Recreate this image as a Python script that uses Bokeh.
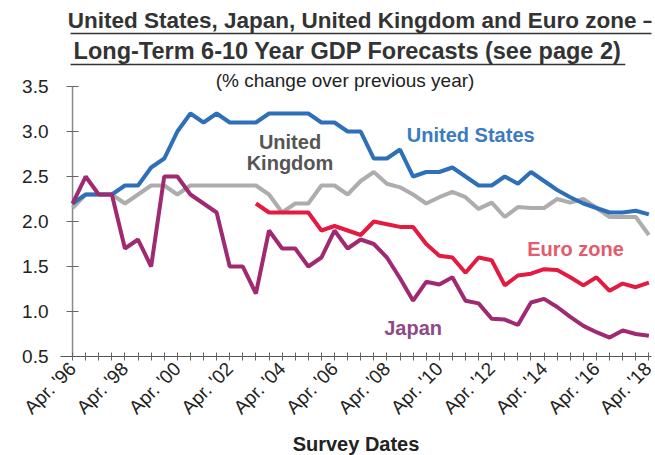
import math
from bokeh.plotting import figure
from bokeh.models import FixedTicker, Range1d, PrintfTickFormatter
from bokeh.core.properties import value
from bokeh.embed import file_html
from bokeh.resources import INLINE

# ---- data (semi-annual surveys, Apr. 1996 .. Apr. 2018) ----
survey_index = list(range(45))
tick_labels = ["Apr. '96", "Apr. '98", "Apr. '00", "Apr. '02", "Apr. '04", "Apr. '06",
               "Apr. '08", "Apr. '10", "Apr. '12", "Apr. '14", "Apr. '16", "Apr. '18"]
y_ticks = [0.5, 1.0, 1.5, 2.0, 2.5, 3.0, 3.5]

united_states = [2.2, 2.3, 2.3, 2.3, 2.4, 2.4, 2.6, 2.7, 3.0, 3.2,
                 3.1, 3.2, 3.1, 3.1, 3.1, 3.2, 3.2, 3.2, 3.2, 3.1,
                 3.1, 3.0, 3.0, 2.7, 2.7, 2.8, 2.5, 2.55, 2.55, 2.6,
                 2.5, 2.4, 2.4, 2.5, 2.42, 2.55, 2.45, 2.35, 2.27, 2.2,
                 2.15, 2.1, 2.1, 2.12, 2.08]
united_kingdom = [2.15, 2.3, 2.3, 2.3, 2.2, 2.3, 2.4, 2.4, 2.3, 2.4,
                  2.4, 2.4, 2.4, 2.4, 2.4, 2.3, 2.1, 2.2, 2.2, 2.4,
                  2.4, 2.3, 2.45, 2.55, 2.42, 2.38, 2.3, 2.2, 2.27, 2.33,
                  2.27, 2.14, 2.21, 2.05, 2.16, 2.15, 2.15, 2.25, 2.21, 2.25,
                  2.15, 2.05, 2.05, 2.05, 1.85]
japan = [2.2, 2.5, 2.3, 2.3, 1.7, 1.8, 1.5, 2.5, 2.5, 2.3,
         2.2, 2.1, 1.5, 1.5, 1.2, 1.9, 1.7, 1.7, 1.5, 1.6,
         1.9, 1.7, 1.8, 1.75, 1.6, 1.37, 1.12, 1.33, 1.3, 1.38,
         1.12, 1.09, 0.92, 0.91, 0.85, 1.1, 1.14, 1.05, 0.94, 0.84,
         0.77, 0.71, 0.79, 0.75, 0.73]
euro_index = list(range(14, 45))
euro_zone = [2.2, 2.1, 2.1, 2.1, 2.1, 1.9, 1.95, 1.9, 1.85, 2.0,
             1.97, 1.94, 1.94, 1.75, 1.62, 1.6, 1.43, 1.6, 1.57, 1.29,
             1.4, 1.42, 1.47, 1.46, 1.38, 1.29, 1.38, 1.23, 1.31, 1.27,
             1.32]

FONT = "Liberation Sans"
US_C, UK_C, EU_C, JP_C = "#2e6fba", "#adadad", "#e31b40", "#a02a72"

p = figure(frame_width=591, frame_height=348, output_backend="svg", toolbar_location=None,
           x_range=Range1d(-0.92, 44.2), y_range=Range1d(0.5, 4.367),
           min_border_left=60, min_border_right=4, min_border_top=8, min_border_bottom=97)
p.xgrid.visible = False
p.ygrid.visible = False
p.outline_line_color = None
p.background_fill_color = "white"

# y axis: labels only, line + ticks drawn at x = first survey
p.yaxis.ticker = FixedTicker(ticks=y_ticks)
p.yaxis.formatter = PrintfTickFormatter(format="%.1f")
p.yaxis.axis_line_color = None
p.yaxis.major_tick_line_color = None
p.yaxis.minor_tick_line_color = None
p.yaxis.major_label_standoff = 6
p.yaxis.major_label_text_font = FONT
p.yaxis.major_label_text_font_size = "19px"
p.yaxis.major_label_text_color = "#222222"

p.segment(x0=survey_index[0], y0=y_ticks[0], x1=survey_index[0], y1=y_ticks[-1],
          line_color="#8a8a8a", line_width=1.5)
p.scatter(x=[survey_index[0]] * len(y_ticks), y=y_ticks, marker="dash", size=12,
          line_color="#666666", line_width=1.2)

# x axis
overrides = {}
for i in survey_index:
    overrides[i] = tick_labels[i // 4] if i % 4 == 0 else ""
p.xaxis.ticker = FixedTicker(ticks=survey_index)
p.xaxis.major_label_overrides = overrides
p.xaxis.major_label_orientation = math.pi / 4
p.xaxis.major_tick_in = 4
p.xaxis.major_tick_out = 4
p.xaxis.major_tick_line_color = "#666666"
p.xaxis.minor_tick_line_color = None
p.xaxis.axis_line_color = "#555555"
p.xaxis.axis_line_width = 1.2
p.xaxis.major_label_text_font = FONT
p.xaxis.major_label_text_font_size = "19px"
p.xaxis.major_label_text_color = "#222222"
p.xaxis.major_label_standoff = 5
p.xaxis.axis_label = "Survey Dates"
p.xaxis.axis_label_text_font = FONT
p.xaxis.axis_label_text_font_style = "bold"
p.xaxis.axis_label_text_font_size = "20px"
p.xaxis.axis_label_text_color = "#222222"
p.xaxis.axis_label_standoff = 5

# series
p.line(survey_index, united_kingdom, line_color=UK_C, line_width=4)
p.line(survey_index, united_states, line_color=US_C, line_width=4)
p.line(euro_index, euro_zone, line_color=EU_C, line_width=4)
p.line(survey_index, japan, line_color=JP_C, line_width=4)

# series labels
def lab(x, y, t, c, size="20px"):
    p.text(x=[x], y=[y], text=[t], text_color=c, text_font=value(FONT),
           text_font_style="bold", text_font_size=size, text_align="center",
           text_baseline="middle")

lab(30.4, 2.956, "United States", "#3b7bbf")
lab(16.6, 2.88, "United", "#555555")
lab(16.6, 2.645, "Kingdom", "#555555")
lab(38.4, 1.70, "Euro zone", "#e35b6e")
lab(26.0, 0.82, "Japan", "#8e4a86")

# titles
p.text(x=[22.06], y=[4.233], text=["United States, Japan, United Kingdom and Euro zone \u2013"],
       text_color="#333333", text_font=value(FONT), text_font_style="bold",
       text_font_size="22.5px", text_align="center", text_baseline="middle")
p.text(x=[21.0], y=[3.9], text=["Long-Term 6-10 Year GDP Forecasts (see page 2)"],
       text_color="#333333", text_font=value(FONT), text_font_style="bold",
       text_font_size="23.5px", text_align="center", text_baseline="middle")
p.segment(x0=[-0.15, -0.15], y0=[4.089, 3.744], x1=[44.3, 42.2], y1=[4.089, 3.744],
          line_color="#333333", line_width=1.5)
p.text(x=[20.8], y=[3.567], text=["(% change over previous year)"],
       text_color="#222222", text_font=value(FONT), text_font_size="19px",
       text_align="center", text_baseline="middle")

open("out.html", "w").write(file_html(p, INLINE))
